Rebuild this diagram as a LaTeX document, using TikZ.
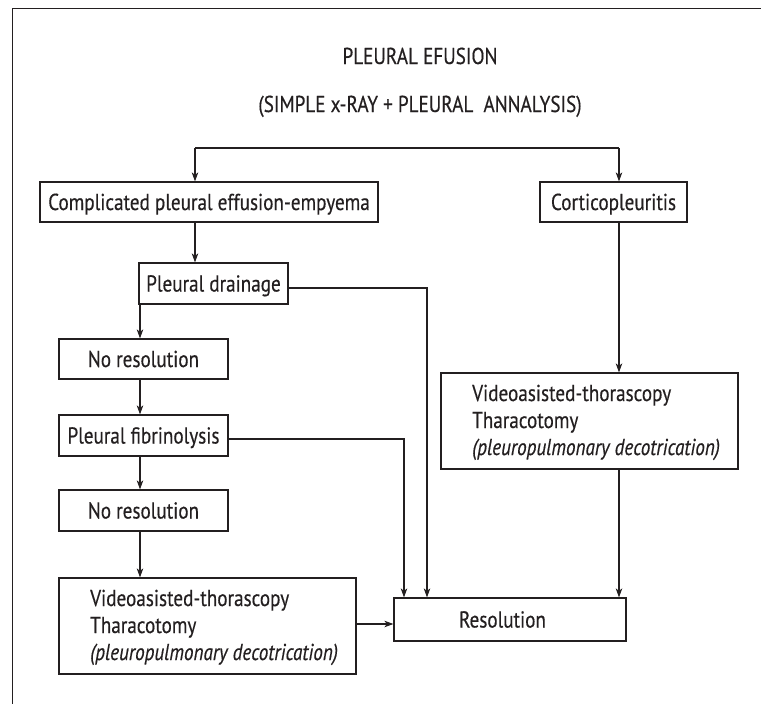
\documentclass[tikz,border=0pt]{standalone}
\usepackage{fontspec}
\setmainfont[FakeStretch=0.833, FakeBold=0.4]{PT Sans}
\usetikzlibrary{arrows.meta}
\definecolor{ink}{HTML}{231F20}
\begin{document}
\begin{tikzpicture}[x=1pt,y=-1pt,
  every node/.style={font=\fontsize{23}{27}\selectfont, text=ink},
  box/.style={draw=ink, line width=1.2pt, inner sep=0pt, text height=16pt, text depth=0pt},
  ln3/.style={anchor=base west, inner sep=0pt},
  arr/.style={draw=ink, line width=1.1pt, -{Stealth[length=9pt,width=6.5pt,inset=2.5pt]}},
  ln/.style={draw=ink, line width=1.1pt}]
\useasboundingbox (0,0) rectangle (761,704);
\draw[draw=ink, line width=1pt] (12,704) -- (12,8) -- (761,8);

\node[anchor=base, inner sep=0pt] (t1) at (420,64) {PLEURAL EFUSION};
\node[anchor=base, inner sep=0pt] (t2) at (420,112) {(SIMPLE x-RAY + PLEURAL\ \ ANNALYSIS)};

\node[box, minimum width=338pt, minimum height=40pt] (comp) at (209,202) {Complicated pleural effusion-empyema};
\node[box, minimum width=147pt, minimum height=40pt] (cort) at (613.5,202) {Corticopleuritis};
\node[box, minimum width=149pt, minimum height=41pt] (drain) at (213.5,283.5) {Pleural drainage};
\node[box, minimum width=169pt, minimum height=40pt] (nr1) at (143.5,359) {No resolution};
\node[box, minimum width=169pt, minimum height=41pt] (fib) at (143.5,435.5) {Pleural fibrinolysis};
\node[box, minimum width=169pt, minimum height=41pt] (nr2) at (143.5,510.5) {No resolution};
\node[box, minimum width=297pt, minimum height=96pt] (vl) at (207.5,626) {};
\node[ln3] (vl1) at (90,606) {Videoasisted-thorascopy};
\node[ln3] (vl2) at (90,633) {Tharacotomy};
\node[ln3] (vl3) at (90,660) {\textit{(pleuropulmonary decotrication)}};
\node[box, minimum width=297pt, minimum height=96pt] (vr) at (589.5,421) {};
\node[ln3] (vr1) at (472,401) {Videoasisted-thorascopy};
\node[ln3] (vr2) at (472,428) {Tharacotomy};
\node[ln3] (vr3) at (472,455) {\textit{(pleuropulmonary decotrication)}};
\node[box, minimum width=232pt, minimum height=43pt] (res) at (510,619.5) {Resolution\hspace*{15pt}};

\coordinate (tl) at (195,148);
\coordinate (tr) at (619,148);
\coordinate (ca) at (140,0);
\coordinate (c1) at (427,0);
\coordinate (c2) at (404,0);

\draw[ln] (tl) -- (tr);
\draw[arr] (tl) -- (tl |- comp.north);
\draw[arr] (tr) -- (tr |- cort.north);
\draw[arr] (tl |- comp.south) -- (tl |- drain.north);
\draw[arr] (ca |- drain.south) -- (ca |- nr1.north);
\draw[arr] (ca |- nr1.south) -- (ca |- fib.north);
\draw[arr] (ca |- fib.south) -- (ca |- nr2.north);
\draw[arr] (ca |- nr2.south) -- (ca |- vl.north);
\draw[arr] ([yshift=-4.5pt]drain.east) -| (c1 |- res.north);
\draw[arr] ([yshift=-3.5pt]fib.east) -| (c2 |- res.north);
\draw[arr] ([yshift=2pt]vl.east) -- ([yshift=2pt]vl.east -| res.west);
\draw[arr] (tr |- cort.south) -- (tr |- vr.north);
\draw[arr] (tr |- vr.south) -- (tr |- res.north);
\end{tikzpicture}
\end{document}
